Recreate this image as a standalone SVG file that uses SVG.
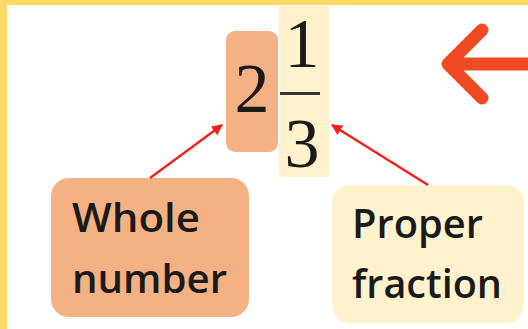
<svg xmlns="http://www.w3.org/2000/svg" width="528" height="329" viewBox="0 0 528 329">
<style>
.lbl{font-family:"Open Sans","Noto Sans",sans-serif;font-size:39px;fill:#1a1a1a;font-weight:600}
.num{font-family:"Liberation Serif","DejaVu Serif",serif;font-size:70px;fill:#1a1a1a}
.con{stroke:#ff1a1a;stroke-width:2.2;fill:none}
</style>
<defs>
<marker id="ah" viewBox="0 0 10 10" refX="9" refY="5" markerWidth="5" markerHeight="5" orient="auto" markerUnits="strokeWidth">
<path d="M0,0 L10,5 L0,10 z" fill="#ff1a1a"/>
</marker>
</defs>
<rect x="0" y="0" width="528" height="329" fill="#FFD966"/>
<rect x="7" y="5" width="521" height="324" fill="#ffffff"/>
<g id="fraction-part">
<rect x="279" y="6" width="50" height="171" rx="4" fill="#FFF2CC"/>
<text class="num" x="302" y="67" text-anchor="middle">1</text>
<rect x="280" y="92" width="40" height="3" fill="#333333"/>
<text class="num" x="302" y="167" text-anchor="middle">3</text>
</g>
<g id="whole-part">
<rect x="226" y="31" width="52" height="121" rx="9" fill="#F4B183"/>
<text class="num" x="252" y="112" text-anchor="middle">2</text>
</g>
<g id="whole-number">
<rect x="51" y="178" width="198" height="139" rx="18" fill="#F4B183"/>
<text class="lbl" x="72" y="232" textLength="128" lengthAdjust="spacingAndGlyphs">Whole</text>
<text class="lbl" x="72" y="293" textLength="155" lengthAdjust="spacingAndGlyphs">number</text>
</g>
<g id="proper-fraction">
<rect x="332" y="185" width="192" height="138" rx="18" fill="#FFF2CC"/>
<text class="lbl" x="352" y="238" textLength="131" lengthAdjust="spacingAndGlyphs">Proper</text>
<text class="lbl" x="352" y="298" textLength="150" lengthAdjust="spacingAndGlyphs">fraction</text>
</g>
<g id="connectors">
<line class="con" x1="150" y1="178" x2="222" y2="125" marker-end="url(#ah)"/>
<line class="con" x1="428" y1="185" x2="332" y2="125" marker-end="url(#ah)"/>
</g>
<g id="pointer">
<path d="M482,30 L448,64 L482,98 M448,64 L535,64" fill="none" stroke="#EE4B24" stroke-width="13" stroke-linecap="round" stroke-linejoin="round"/>
</g>
</svg>
